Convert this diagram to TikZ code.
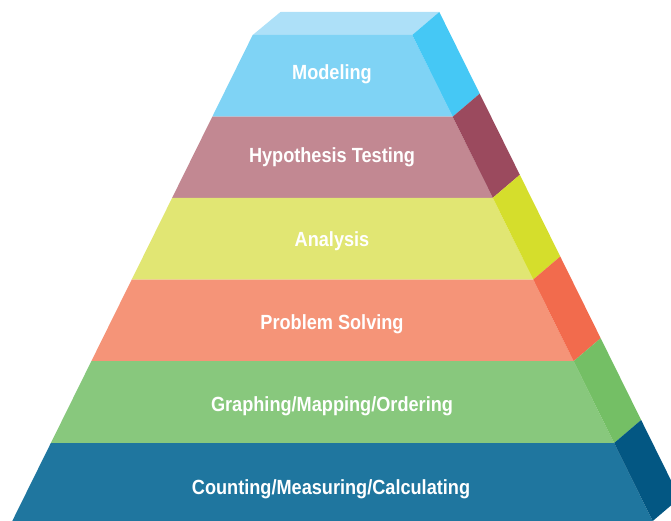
\documentclass[tikz,border=0pt]{standalone}
\usepackage{fontspec}
\usetikzlibrary{calc}
\setmainfont{Liberation Sans}[FakeStretch=0.885]
\definecolor{topc}{HTML}{ADE0F8}
\definecolor{f1}{HTML}{7FD3F5}\definecolor{s1}{HTML}{45C8F5}
\definecolor{f2}{HTML}{C28892}\definecolor{s2}{HTML}{9B4A5E}
\definecolor{f3}{HTML}{E1E673}\definecolor{s3}{HTML}{D5DE2C}
\definecolor{f4}{HTML}{F59478}\definecolor{s4}{HTML}{F26B4D}
\definecolor{f5}{HTML}{88C87D}\definecolor{s5}{HTML}{74BF65}
\definecolor{f6}{HTML}{1F769F}\definecolor{s6}{HTML}{035783}
\tikzset{lbl/.style={text=white,font=\bfseries\fontsize{20.5}{21}\selectfont,anchor=base,inner sep=0pt}}
\begin{document}
\begin{tikzpicture}[x=1pt,y=-1pt]
\useasboundingbox (0,0) rectangle (671,521);
\clip (0,0) rectangle (671,521);
% top face
\fill[topc] (252.7,35) -- (412.3,35) -- (439.3,12) -- (280.5,12) -- cycle;
% bands
\def\ys{{35,116.7,197.8,279.5,361.2,443,521}}
\foreach \i/\fc/\sc in {0/f1/s1,1/f2/s2,2/f3/s3,3/f4/s4,4/f5/s5,5/f6/s6}{
  \pgfmathsetmacro\ya{\ys[\i]}
  \pgfmathsetmacro\yb{\ys[\i+1]}
  \pgfmathsetmacro\xla{332.5-(79.8+0.4947*(\ya-35))}
  \pgfmathsetmacro\xra{332.5+(79.8+0.4947*(\ya-35))}
  \pgfmathsetmacro\xlb{332.5-(79.8+0.4947*(\yb-35))}
  \pgfmathsetmacro\xrb{332.5+(79.8+0.4947*(\yb-35))}
  \fill[\fc] (\xla,\ya) -- (\xra,\ya) -- (\xrb,\yb) -- (\xlb,\yb) -- cycle;
  \fill[\sc] (\xra,\ya) -- ($(\xra,\ya)+(27,-23)$) -- ($(\xrb,\yb)+(27,-23)$) -- (\xrb,\yb) -- cycle;
}
\node[lbl] (t1) at (332,80) {Modeling};
\node[lbl] (t2) at (332,163) {Hypothesis Testing};
\node[lbl] (t3) at (332,246) {Analysis};
\node[lbl] (t4) at (332,329) {Problem Solving};
\node[lbl] (t5) at (332,411) {Graphing/Mapping/Ordering};
\node[lbl] (t6) at (331,494.5) {Counting/Measuring/Calculating};
\end{tikzpicture}
\end{document}
